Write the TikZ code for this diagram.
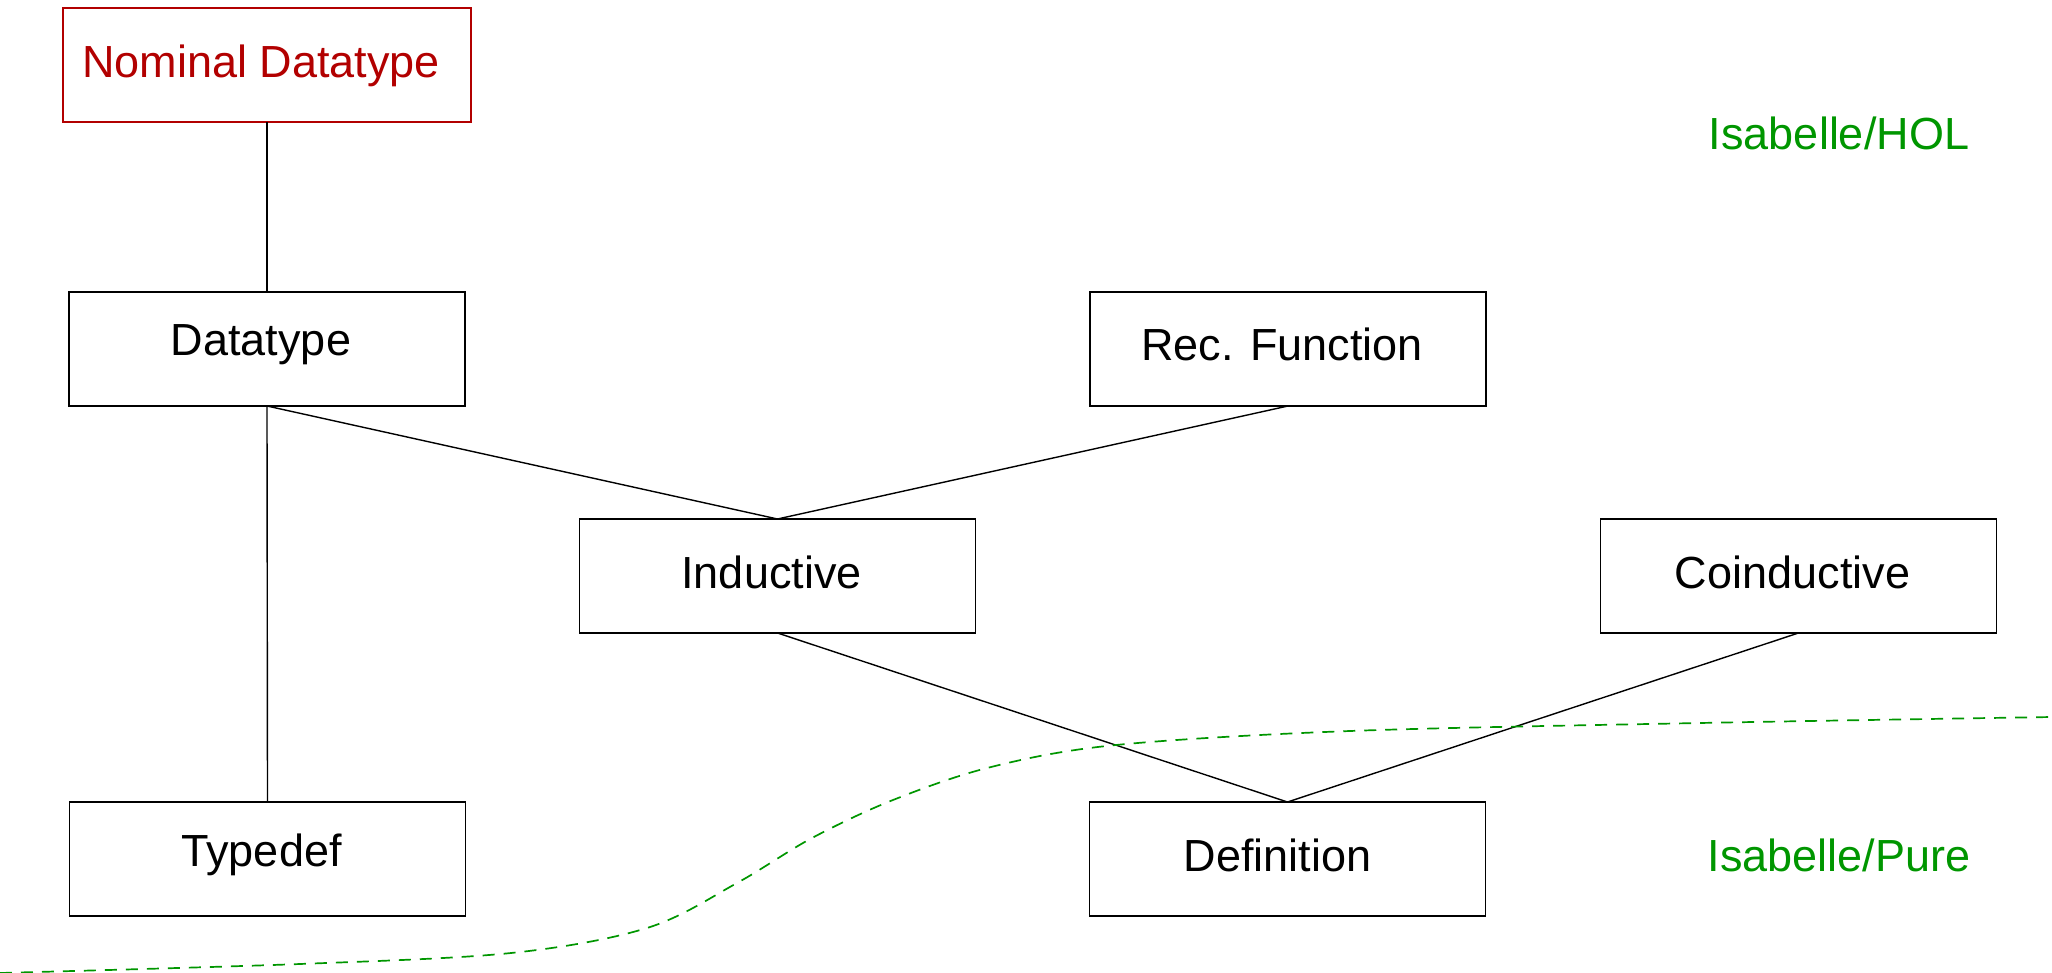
\documentclass[tikz,border=0pt]{standalone}
\usepackage{fontspec}
\setmainfont{Liberation Sans}
\definecolor{holgreen}{RGB}{0,150,0}
\definecolor{nomred}{RGB}{178,0,0}
\tikzset{
  px/.style={x=0.5pt,y=-0.5pt},
  box/.style={draw=black,line width=0.7pt,rectangle,inner sep=0pt,outer sep=0pt,
              minimum width=198pt,minimum height=57pt},
  nombox/.style={box,draw=nomred,minimum width=204pt},
  lbl/.style={inner sep=0pt,outer sep=0pt,anchor=base,font=\fontsize{22.5pt}{27pt}\selectfont},
  conn/.style={draw=black,line width=0.7pt},
  sep/.style={draw=holgreen,line width=0.85pt,dash pattern=on 6pt off 4.5pt}
}
\begin{document}
\begin{tikzpicture}[px]
\useasboundingbox (0,0) rectangle (2052,973);
% boxes
\node[nombox] (nom) at (267,65) {};
\node[box] (dt)  at (267,349) {};
\node[box] (rec) at (1288,349) {};
\node[box] (ind) at (777.5,576) {};
\node[box] (coi) at (1798.5,576) {};
\node[box] (td)  at (267.5,859) {};
\node[box] (def) at (1287.5,859) {};
% labels
\node[lbl,text=nomred] (nomT) at (261,78) {Nominal Datatype};
\node[lbl] (dtT)  at (261,356) {Datatype};
\node[lbl] (recT) at (1282,361) {Rec. Function};
\node[lbl] (indT) at (771.5,588) {Inductive};
\node[lbl] (coiT) at (1792.5,588) {Coinductive};
\node[lbl] (tdT)  at (261.5,866) {Typedef};
\node[lbl] (defT) at (1277.5,871) {Definition};
\node[lbl,text=holgreen] (hol)  at (1839,150) {Isabelle/HOL};
\node[lbl,text=holgreen] (pure) at (1839,871) {Isabelle/Pure};
% connectors
\draw[conn] (nom.south) -- (dt.north);
\draw[conn] (dt.south) -- (td.north);
\draw[conn] (dt.south) -- (ind.north);
\draw[conn] (rec.south) -- (ind.north);
\draw[conn] (ind.south) -- (def.north);
\draw[conn] (coi.south) -- (def.north);
% separator
\draw[sep] plot[smooth,tension=0.55] coordinates {(0,973) (300,964) (511,953) (647,928) (737,883) (812,838) (893,800) (991,767) (1116,745) (1350,731) (1700,723) (2052,717)};
\end{tikzpicture}
\end{document}
